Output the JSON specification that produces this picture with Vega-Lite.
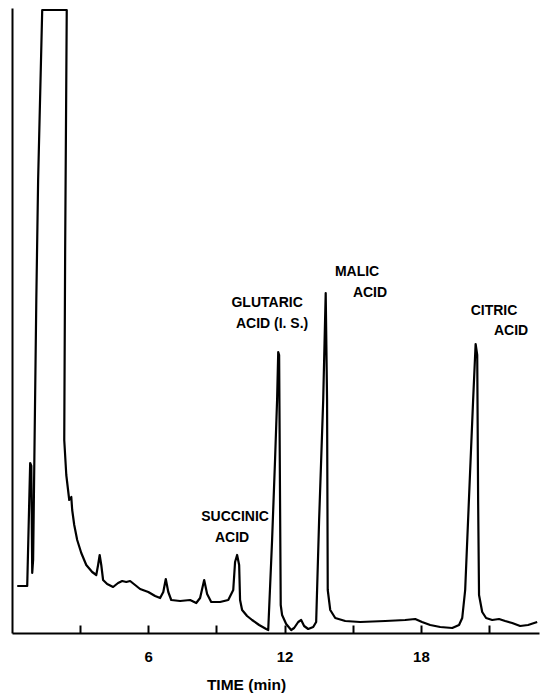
{
  "$schema": "https://vega.github.io/schema/vega-lite/v6.json",
  "autosize": {"type": "none"},
  "width": 527,
  "height": 625,
  "padding": {"left": 12, "top": 8, "right": 5, "bottom": 60},
  "background": "white",
  "config": {"view": {"stroke": null}, "font": "Liberation Sans"},
  "datasets": {
    "trace": [
      {"i": 1, "time": 0.23, "response": 47},
      {"i": 2, "time": 0.67, "response": 47},
      {"i": 3, "time": 0.76, "response": 133},
      {"i": 4, "time": 0.80, "response": 170},
      {"i": 5, "time": 0.85, "response": 167},
      {"i": 6, "time": 0.89, "response": 60},
      {"i": 7, "time": 0.93, "response": 73},
      {"i": 8, "time": 1.07, "response": 333},
      {"i": 9, "time": 1.15, "response": 453},
      {"i": 10, "time": 1.33, "response": 623},
      {"i": 11, "time": 2.41, "response": 623},
      {"i": 12, "time": 2.34, "response": 383},
      {"i": 13, "time": 2.30, "response": 193},
      {"i": 14, "time": 2.39, "response": 158},
      {"i": 15, "time": 2.52, "response": 133},
      {"i": 16, "time": 2.61, "response": 136},
      {"i": 17, "time": 2.65, "response": 123},
      {"i": 18, "time": 2.74, "response": 108},
      {"i": 19, "time": 2.87, "response": 93},
      {"i": 20, "time": 3.05, "response": 80},
      {"i": 21, "time": 3.27, "response": 68},
      {"i": 22, "time": 3.53, "response": 61},
      {"i": 23, "time": 3.71, "response": 58},
      {"i": 24, "time": 3.79, "response": 68},
      {"i": 25, "time": 3.86, "response": 78},
      {"i": 26, "time": 3.93, "response": 68},
      {"i": 27, "time": 4.01, "response": 53},
      {"i": 28, "time": 4.19, "response": 49},
      {"i": 29, "time": 4.45, "response": 46},
      {"i": 30, "time": 4.67, "response": 50},
      {"i": 31, "time": 4.85, "response": 52},
      {"i": 32, "time": 5.03, "response": 51},
      {"i": 33, "time": 5.20, "response": 52},
      {"i": 34, "time": 5.42, "response": 48},
      {"i": 35, "time": 5.64, "response": 44},
      {"i": 36, "time": 6.00, "response": 41},
      {"i": 37, "time": 6.30, "response": 37},
      {"i": 38, "time": 6.52, "response": 35},
      {"i": 39, "time": 6.66, "response": 41},
      {"i": 40, "time": 6.77, "response": 54},
      {"i": 41, "time": 6.88, "response": 41},
      {"i": 42, "time": 7.01, "response": 33},
      {"i": 43, "time": 7.40, "response": 32},
      {"i": 44, "time": 7.84, "response": 33},
      {"i": 45, "time": 8.11, "response": 30},
      {"i": 46, "time": 8.28, "response": 35},
      {"i": 47, "time": 8.46, "response": 53},
      {"i": 48, "time": 8.59, "response": 39},
      {"i": 49, "time": 8.77, "response": 31},
      {"i": 50, "time": 9.16, "response": 31},
      {"i": 51, "time": 9.52, "response": 33},
      {"i": 52, "time": 9.74, "response": 43},
      {"i": 53, "time": 9.82, "response": 71},
      {"i": 54, "time": 9.91, "response": 78},
      {"i": 55, "time": 10.00, "response": 68},
      {"i": 56, "time": 10.04, "response": 33},
      {"i": 57, "time": 10.13, "response": 23},
      {"i": 58, "time": 10.35, "response": 17},
      {"i": 59, "time": 10.57, "response": 13},
      {"i": 60, "time": 10.88, "response": 8},
      {"i": 61, "time": 11.19, "response": 4},
      {"i": 62, "time": 11.28, "response": 3},
      {"i": 63, "time": 11.45, "response": 93},
      {"i": 64, "time": 11.58, "response": 173},
      {"i": 65, "time": 11.67, "response": 233},
      {"i": 66, "time": 11.72, "response": 281},
      {"i": 67, "time": 11.76, "response": 278},
      {"i": 68, "time": 11.80, "response": 133},
      {"i": 69, "time": 11.83, "response": 28},
      {"i": 70, "time": 11.89, "response": 18},
      {"i": 71, "time": 12.07, "response": 9},
      {"i": 72, "time": 12.29, "response": 3},
      {"i": 73, "time": 12.42, "response": 5},
      {"i": 74, "time": 12.60, "response": 11},
      {"i": 75, "time": 12.73, "response": 13},
      {"i": 76, "time": 12.86, "response": 7},
      {"i": 77, "time": 13.04, "response": 4},
      {"i": 78, "time": 13.26, "response": 6},
      {"i": 79, "time": 13.39, "response": 11},
      {"i": 80, "time": 13.52, "response": 113},
      {"i": 81, "time": 13.70, "response": 233},
      {"i": 82, "time": 13.81, "response": 340},
      {"i": 83, "time": 13.87, "response": 233},
      {"i": 84, "time": 13.90, "response": 43},
      {"i": 85, "time": 14.01, "response": 23},
      {"i": 86, "time": 14.23, "response": 15},
      {"i": 87, "time": 14.67, "response": 12},
      {"i": 88, "time": 15.33, "response": 11},
      {"i": 89, "time": 16.43, "response": 12},
      {"i": 90, "time": 17.31, "response": 13},
      {"i": 91, "time": 17.75, "response": 14},
      {"i": 92, "time": 18.05, "response": 11},
      {"i": 93, "time": 18.41, "response": 8},
      {"i": 94, "time": 18.85, "response": 6},
      {"i": 95, "time": 19.38, "response": 5},
      {"i": 96, "time": 19.68, "response": 8},
      {"i": 97, "time": 19.82, "response": 15},
      {"i": 98, "time": 19.95, "response": 43},
      {"i": 99, "time": 20.17, "response": 163},
      {"i": 100, "time": 20.30, "response": 233},
      {"i": 101, "time": 20.41, "response": 289},
      {"i": 102, "time": 20.48, "response": 278},
      {"i": 103, "time": 20.52, "response": 133},
      {"i": 104, "time": 20.56, "response": 38},
      {"i": 105, "time": 20.70, "response": 21},
      {"i": 106, "time": 20.87, "response": 15},
      {"i": 107, "time": 21.14, "response": 13},
      {"i": 108, "time": 21.44, "response": 14},
      {"i": 109, "time": 21.71, "response": 12},
      {"i": 110, "time": 22.02, "response": 10},
      {"i": 111, "time": 22.37, "response": 7},
      {"i": 112, "time": 22.72, "response": 8},
      {"i": 113, "time": 23.12, "response": 11}
    ],
    "labels": [
      {"label": "SUCCINIC", "time": 9.82, "response": 116},
      {"label": "ACID", "time": 9.69, "response": 95},
      {"label": "GLUTARIC", "time": 11.23, "response": 330},
      {"label": "ACID (I. S.)", "time": 11.45, "response": 309},
      {"label": "MALIC", "time": 15.19, "response": 361},
      {"label": "ACID", "time": 15.76, "response": 340},
      {"label": "CITRIC", "time": 21.22, "response": 322},
      {"label": "ACID", "time": 21.97, "response": 302}
    ]
  },
  "layer": [
    {
      "data": {"name": "trace"},
      "mark": {"type": "line", "color": "black", "strokeWidth": 2.2, "strokeJoin": "round"},
      "encoding": {
        "x": {
          "field": "time",
          "type": "quantitative",
          "scale": {"domain": [0, 23.2], "nice": false, "zero": false},
          "axis": {
            "values": [3, 6, 9, 12, 15, 18, 21],
            "labelExpr": "datum.value % 6 === 0 ? datum.label : ''",
            "tickSize": -8,
            "tickColor": "black",
            "tickWidth": 2,
            "domainColor": "black",
            "domainWidth": 2,
            "grid": false,
            "labelFontSize": 15,
            "labelFontWeight": "bold",
            "labelColor": "black",
            "labelPadding": 24,
            "labelFlush": false,
            "title": "TIME (min)",
            "titleFontSize": 15.5,
            "titleFontWeight": "bold",
            "titleColor": "black",
            "titleX": 234,
            "titleY": 56,
            "titleAlign": "center",
            "titleBaseline": "alphabetic"
          }
        },
        "y": {
          "field": "response",
          "type": "quantitative",
          "scale": {"domain": [0, 625], "nice": false},
          "axis": {
            "domain": true,
            "domainColor": "black",
            "domainWidth": 2,
            "ticks": false,
            "labels": false,
            "grid": false,
            "title": null
          }
        },
        "order": {"field": "i", "type": "quantitative"}
      }
    },
    {
      "data": {"name": "labels"},
      "mark": {"type": "text", "font": "Liberation Sans", "fontWeight": "bold", "fontSize": 14, "align": "center", "baseline": "middle", "color": "black"},
      "encoding": {
        "x": {"field": "time", "type": "quantitative"},
        "y": {"field": "response", "type": "quantitative"},
        "text": {"field": "label"}
      }
    }
  ]
}
